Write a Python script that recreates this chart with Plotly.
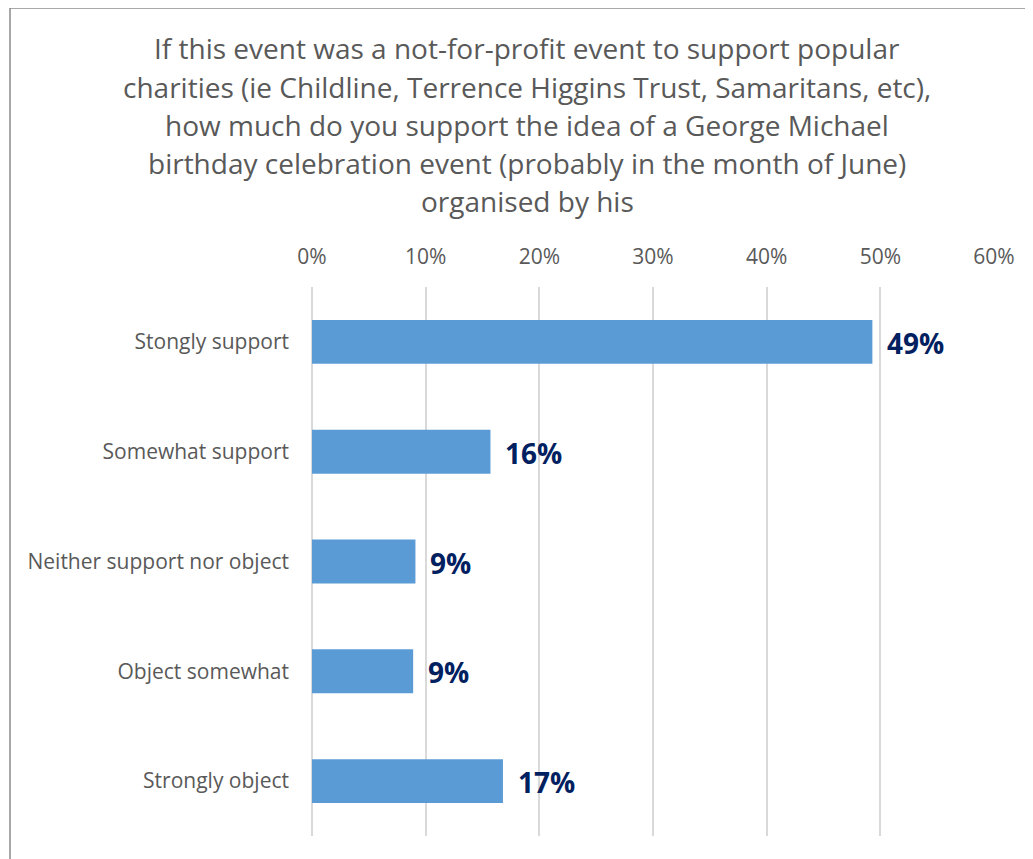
import plotly.graph_objects as go

# data
categories = ['Stongly support', 'Somewhat support', 'Neither support nor object',
              'Object somewhat', 'Strongly object']
shares = [49.3, 15.7, 9.1, 8.9, 16.8]
tick_vals = [0, 10, 20, 30, 40, 50, 60]
tick_text = ['0%', '10%', '20%', '30%', '40%', '50%', '60%']
title_lines = [
    'If this event was a not-for-profit event to support popular',
    'charities (ie Childline, Terrence Higgins Trust, Samaritans, etc),',
    'how much do you support the idea of a George Michael',
    'birthday celebration event (probably in the month of June)',
    'organised by his',
]

# page places the figure 8px in from the top-left corner
OFF = 8
W, H = 1033, 859
L, T = 312 - OFF, 287 - OFF
R = W - (994 - OFF)
B = H - (836 - OFF)
pw, ph = W - L - R, H - T - B

def px_x(x):
    return (x - OFF - L) / pw

def px_y(y):
    return (H - B - (y - OFF)) / ph

bar_color = '#5B9BD5'
label_color = '#002060'
grey_text = '#595959'
font = 'Open Sans'

fig = go.Figure()
fig.add_trace(go.Bar(
    x=shares,
    y=categories,
    orientation='h',
    marker=dict(color=bar_color, line=dict(width=0)),
    width=0.4,
    hoverinfo='skip',
))

annotations = []
for v, c in zip(shares, categories):
    annotations.append(dict(
        x=v, y=c, xref='x', yref='y', text=f'<b>{round(v)}%</b>',
        showarrow=False, xanchor='left', yanchor='middle', xshift=13, yshift=-1,
        font=dict(family=font, size=28, color=label_color),
    ))

title_y = [48, 87, 125, 163, 201]
for line, yy in zip(title_lines, title_y):
    annotations.append(dict(
        x=px_x(527), y=px_y(yy), xref='paper', yref='paper', text=line,
        showarrow=False, xanchor='center', yanchor='middle',
        font=dict(family=font, size=28, color=grey_text),
    ))

fig.update_layout(
    width=W, height=H,
    margin=dict(l=L, r=R, t=T, b=B, pad=0),
    paper_bgcolor='white', plot_bgcolor='white',
    showlegend=False,
    font=dict(family=font, color=grey_text),
    xaxis=dict(
        side='top', range=[0, 60], tickvals=tick_vals, ticktext=tick_text,
        showgrid=True, gridcolor='#D9D9D9', gridwidth=1.5,
        zeroline=True, zerolinecolor='#D9D9D9', zerolinewidth=1.5,
        showline=False, ticks='', ticklabelstandoff=18,
        tickfont=dict(family=font, size=21, color=grey_text),
        fixedrange=True,
    ),
    yaxis=dict(
        autorange='reversed', showgrid=False, zeroline=False, showline=False,
        ticks='', ticklabelstandoff=22,
        tickfont=dict(family=font, size=21, color=grey_text),
        fixedrange=True,
    ),
    annotations=annotations,
    shapes=[dict(
        type='rect', xref='paper', yref='paper',
        x0=px_x(10), x1=px_x(1060), y0=px_y(900), y1=px_y(8),
        line=dict(color='#8C8C8C', width=1.5), fillcolor='rgba(0,0,0,0)',
        layer='below',
    )],
)

fig.write_html('out.html')
